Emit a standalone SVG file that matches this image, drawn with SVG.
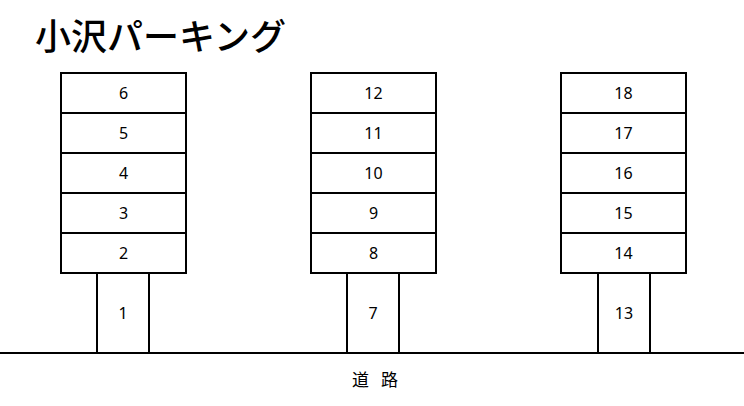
<svg xmlns="http://www.w3.org/2000/svg" width="744" height="406" viewBox="0 0 744 406">
<style>
.s{fill:#fff;stroke:#000;stroke-width:2}
.n{font-family:"Noto Sans","Open Sans",sans-serif;font-size:16px;text-anchor:middle;dominant-baseline:central;fill:#000}
.t{font-family:"Noto Sans CJK JP",sans-serif;font-size:36px;font-weight:500;fill:#000}
.r{font-family:"Noto Sans CJK JP",sans-serif;font-size:17px;text-anchor:middle;fill:#000}
</style>
<rect width="744" height="406" fill="#fff"/>
<text class="t" x="35" y="50">小沢パーキング</text>
<g id="lot-A">
<g id="s6"><rect class="s" x="61" y="73" width="125" height="40"/><text class="n" x="123.5" y="93">6</text></g>
<g id="s5"><rect class="s" x="61" y="113" width="125" height="40"/><text class="n" x="123.5" y="133">5</text></g>
<g id="s4"><rect class="s" x="61" y="153" width="125" height="40"/><text class="n" x="123.5" y="173">4</text></g>
<g id="s3"><rect class="s" x="61" y="193" width="125" height="40"/><text class="n" x="123.5" y="213">3</text></g>
<g id="s2"><rect class="s" x="61" y="233" width="125" height="40"/><text class="n" x="123.5" y="253">2</text></g>
<g id="s1"><rect class="s" x="97" y="273" width="52" height="80"/><text class="n" x="123" y="313">1</text></g>
</g>
<g id="lot-B">
<g id="s12"><rect class="s" x="311" y="73" width="125" height="40"/><text class="n" x="373.5" y="93">12</text></g>
<g id="s11"><rect class="s" x="311" y="113" width="125" height="40"/><text class="n" x="373.5" y="133">11</text></g>
<g id="s10"><rect class="s" x="311" y="153" width="125" height="40"/><text class="n" x="373.5" y="173">10</text></g>
<g id="s9"><rect class="s" x="311" y="193" width="125" height="40"/><text class="n" x="373.5" y="213">9</text></g>
<g id="s8"><rect class="s" x="311" y="233" width="125" height="40"/><text class="n" x="373.5" y="253">8</text></g>
<g id="s7"><rect class="s" x="347" y="273" width="52" height="80"/><text class="n" x="373" y="313">7</text></g>
</g>
<g id="lot-C">
<g id="s18"><rect class="s" x="561" y="73" width="125" height="40"/><text class="n" x="623.5" y="93">18</text></g>
<g id="s17"><rect class="s" x="561" y="113" width="125" height="40"/><text class="n" x="623.5" y="133">17</text></g>
<g id="s16"><rect class="s" x="561" y="153" width="125" height="40"/><text class="n" x="623.5" y="173">16</text></g>
<g id="s15"><rect class="s" x="561" y="193" width="125" height="40"/><text class="n" x="623.5" y="213">15</text></g>
<g id="s14"><rect class="s" x="561" y="233" width="125" height="40"/><text class="n" x="623.5" y="253">14</text></g>
<g id="s13"><rect class="s" x="598" y="273" width="52" height="80"/><text class="n" x="624" y="313">13</text></g>
</g>
<g id="road">
<line x1="0" y1="353" x2="744" y2="353" stroke="#000" stroke-width="2"/>
<text class="r" x="375" y="386" xml:space="preserve" word-spacing="8">道 路</text>
</g>
</svg>
